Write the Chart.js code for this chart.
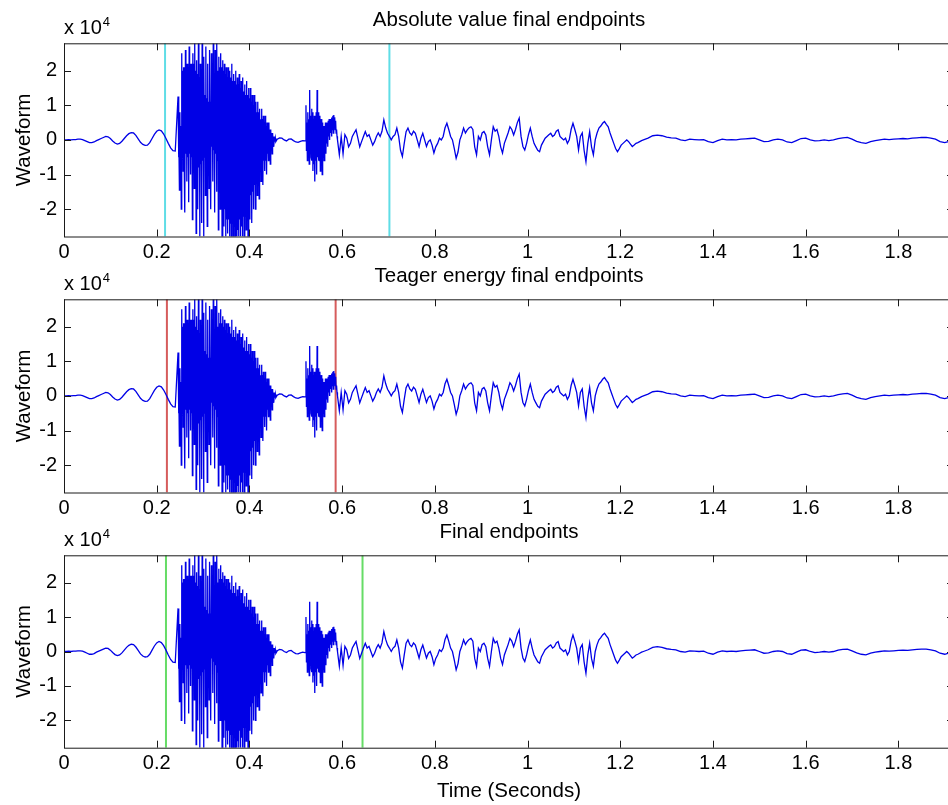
<!DOCTYPE html>
<html>
<head>
<meta charset="utf-8">
<script src="https://cdn.jsdelivr.net/npm/chart.js@4.4.1/dist/chart.umd.min.js"></script>
<style>
  body { margin: 0; background: #fff; }
  #figure { position: relative; width: 948px; height: 805px; overflow: hidden; background: #fff; }
  #figure canvas { position: absolute; left: 0; }
</style>
</head>
<body>
<div id="figure">
  <canvas id="absPanel" width="954" height="270" style="top:0"></canvas>
  <canvas id="teagerPanel" width="954" height="270" style="top:256px"></canvas>
  <canvas id="finalPanel" width="954" height="293" style="top:512px"></canvas>
</div>
<script>
// amplitudes are in units of 1e4, time in seconds
// each block is sampled from its start time at a fixed step
const onsetWiggle = [0, 0, 0.01, 0, 0.01, 0.01, 0.02, 0.02, 0.01, -0.02, -0.05, -0.08, -0.08, -0.06, -0.02,
  0.01, 0.04, 0.07, 0.1, 0.09, 0.04, -0.03, -0.09, -0.12, -0.1, -0.04, 0.04, 0.12, 0.18, 0.21,
  0.2, 0.13, 0.03, -0.07, -0.13, -0.16, -0.15, -0.08, 0.04, 0.16, 0.25, 0.29, 0.26, 0.17, 0.04,
  -0.1, -0.23, -0.31, -0.32];

const voicedBurst = [
  1.25, -0.5, 0.3, -1.45,   0.8, -0.6, 0.4, -2.0,   2.5, -0.3, 2.0, -0.9,   2.1, -0.4, 2.1, -2.1,
  2.6, -0.4, 2.2, -1.2,     2.2, -0.5, 2.1, -1.8,   2.7, -0.4, 2.2, -1.0,   2.2, -0.5, 2.1, -2.3,
  2.5, -0.6, 2.2, -1.4,     2.79, -0.6, 2.0, -2.7,  2.3, -0.8, 1.9, -2.0,   2.79, -0.8, 1.8, -2.79,
  2.2, -0.7, 1.6, -2.4,     2.79, -0.6, 1.5, -2.79, 2.4, -0.5, 1.3, -1.6,   2.7, -0.4, 1.2, -2.5,
  2.2, -0.3, 1.1, -1.4,     2.6, -0.2, 1.1, -2.0,   2.5, -0.2, 1.2, -1.2,   2.79, -0.3, 1.3, -2.1,
  2.6, -0.4, 1.6, -1.5,     2.79, -0.6, 2.0, -2.6,  2.4, -0.9, 2.1, -2.0,   2.5, -1.2, 2.1, -2.79,
  2.3, -1.6, 2.0, -2.5,     2.2, -2.0, 1.9, -2.79,  2.1, -2.3, 1.8, -2.7,   2.1, -2.3, 1.8, -2.79,
  2.0, -2.4, 1.8, -2.79,    2.2, -2.4, 1.7, -2.79,  1.9, -2.5, 1.7, -2.79,  2.0, -2.4, 1.6, -2.79,
  1.8, -2.6, 1.6, -2.79,    1.9, -2.3, 1.5, -2.79,  1.7, -2.5, 1.5, -2.79,  1.8, -2.2, 1.4, -2.79,
  1.6, -2.2, 1.3, -2.6,     1.7, -2.0, 1.3, -2.79,  1.5, -1.8, 1.2, -2.3,   1.5, -1.6, 1.1, -2.4,
  1.3, -1.5, 1.0, -2.0,     1.3, -1.3, 0.9, -2.0,   1.1, -1.2, 0.8, -1.6,   1.1, -1.0, 0.8, -1.7,
  0.9, -0.9, 0.6, -1.2,     0.9, -0.8, 0.6, -1.3,   0.7, -0.6, 0.5, -0.9,   0.7, -0.6, 0.4, -1.0,
  0.5, -0.4, 0.3, -0.6,     0.5, -0.4, 0.3, -0.7,   0.3, -0.2, 0.2, -0.4,   0.2, -0.1, 0.1, -0.2,
  0.1, -0.05, 0.05, -0.05];

const pauseWiggle = [0.02, 0.06, 0.05, 0, -0.03, 0.02, 0.03, -0.02, -0.06, -0.07, -0.04, -0.02, -0.03];

const fricativeBurst = [
  1.0, -0.3, 0.5, -0.6,   0.8, -0.5, 0.6, -0.7,   1.44, -0.4, 0.7, -0.5,  0.9, -0.6, 0.8, -0.9,
  0.6, -0.7, 0.7, -1.2,   0.7, -0.6, 0.8, -1.0,   1.44, -0.5, 0.7, -0.6,  0.8, -0.6, 0.7, -0.9,
  0.6, -0.7, 0.6, -1.0,   0.5, -0.5, 0.4, -0.6,   0.4, -0.3, 0.5, -0.4,   0.5, -0.1, 0.5, -0.2,
  0.55, 0.1, 0.6, 0,      0.6, 0.2, 0.6, 0.1,     0.65, 0.3, 0.7, 0.2,    0.72, 0.35, 0.65, 0.3,
  0.55, 0.2, 0.3, 0.1,    0];

const vowelBody = [-0.43, 0.1, -0.4, 0.15, 0.05, -0.2, -0.1, 0.1, 0.2, 0.29,
  0.05, -0.2, -0.05, 0.1, 0.24, 0.1, 0.15, 0, -0.15, -0.05,
  0.1, 0.2, 0.1, 0.25, 0.58, 0.35, 0.19, 0.1, 0, 0.1,
  0.15, 0.34, 0.1, -0.3, -0.48, -0.1, 0.24, 0.34, 0.2, 0.14,
  0.25, 0.19, 0, -0.19, 0.05, 0.19, 0, -0.19, -0.05, 0,
  -0.15, -0.38, -0.2, -0.1, 0.05, 0, 0.1, 0.35, 0.48, 0.3,
  0.1, 0, -0.25, -0.53, -0.35, 0, 0.15, 0.34, 0.2, 0.29,
  0.35, 0.38, 0.3, -0.2, -0.43, 0.1, 0, 0.2, 0.24, 0.14,
  -0.2, -0.43, 0, 0.38, 0.25, 0.3, 0.1, -0.2, -0.38, -0.1,
  0.05, 0.2, 0.38, 0.3, 0.14, 0.3, 0.5, 0.63, 0.1, -0.19,
  -0.29, -0.1, 0.15, 0.34, 0.1, -0.1, -0.2, -0.3, -0.34, -0.15,
  -0.05, 0.05, 0.1, 0.15, 0.19, 0.1, 0.14, 0.25, 0.29, 0.1,
  0.05, 0, 0.05, -0.1, 0, 0.3, 0.48, 0.3, 0.1, -0.29,
  0.1, 0.2, -0.3, -0.63, -0.1, 0.24, -0.2, -0.43, 0, 0.2,
  0.34, 0.4, 0.48, 0.53, 0.45, 0.38, 0.2, 0.05, -0.1, -0.25,
  -0.34, -0.25, -0.15, -0.1, -0.05, 0, -0.05, -0.12, -0.19, -0.15,
  -0.1, -0.08, -0.05, -0.02];

const trailingSilence = [0, 0.05, 0.12, 0.14, 0.12, 0.08, 0.06, 0.05, 0, -0.02,
  0.02, 0.01, 0, 0.01, -0.05, -0.08, -0.02, 0.02, 0, 0.01,
  0, 0.02, 0.03, 0.04, 0.05, 0, -0.05, -0.04, 0, 0.02,
  0, -0.06, -0.08, -0.02, 0.04, 0.05, 0, -0.03, -0.02, 0,
  -0.02, 0, 0.04, 0.06, 0.07, 0.02, -0.04, -0.08, -0.1, -0.05,
  -0.02, 0, 0.02, 0.01, 0.02, 0.03, 0.04, 0.03, 0.05, 0.06,
  0.07, 0.07, 0.05, 0.02, -0.05, -0.08, -0.04, -0.02];

// [start time, step, samples]
const blocks = [
  [0, 0.005, onsetWiggle],
  [0.246, 0.001, voicedBurst],
  [0.46, 0.005, pauseWiggle],
  [0.522, 0.001, fricativeBurst],
  [0.594, 0.004, vowelBody],
  [1.25, 0.01, trailingSilence],
];

// detected start/end of speech, seconds
const absEndpoints = [0.218, 0.702];
const teagerEndpoints = [0.222, 0.586];
const finalEndpoints = [0.220, 0.644];

const timeRange = [0, 1.92];
const ampRange = [-2.79, 2.79];
const timeTicks = [0, 0.2, 0.4, 0.6, 0.8, 1, 1.2, 1.4, 1.6, 1.8];
const ampTicks = [-2, -1, 0, 1, 2];

const FONT = "'Liberation Sans', Arial, Helvetica, sans-serif";

const waveform = [];
blocks.forEach(([t0, dt, vals]) => {
  vals.forEach((v, i) => waveform.push({ x: +(t0 + i * dt).toFixed(4), y: v }));
});

// box around the plot with inward ticks on all sides, plus the exponent note
const matlabAxes = {
  id: 'matlabAxes',
  afterDatasetsDraw(chart) {
    const { ctx, chartArea: a, scales: { x, y } } = chart;
    ctx.save();
    ctx.strokeStyle = '#1a1a1a';
    ctx.lineWidth = 1;
    ctx.strokeRect(a.left + 0.5, a.top + 0.5, a.right - a.left - 1, a.bottom - a.top);
    ctx.beginPath();
    x.ticks.forEach(t => {
      const px = Math.round(x.getPixelForValue(t.value)) + 0.5;
      ctx.moveTo(px, a.top); ctx.lineTo(px, a.top + 7);
      ctx.moveTo(px, a.bottom); ctx.lineTo(px, a.bottom - 7);
    });
    y.ticks.forEach(t => {
      const py = Math.round(y.getPixelForValue(t.value)) + 0.5;
      ctx.moveTo(a.left, py); ctx.lineTo(a.left + 7, py);
      ctx.moveTo(a.right, py); ctx.lineTo(a.right - 7, py);
    });
    ctx.stroke();

    ctx.fillStyle = '#000';
    ctx.textBaseline = 'middle';
    ctx.textAlign = 'left';
    ctx.font = '20px ' + FONT;
    ctx.fillText('x 10', a.left, a.top - 15);
    const w = ctx.measureText('x 10').width;
    ctx.font = '13px ' + FONT;
    ctx.fillText('4', a.left + w + 1, a.top - 21);
    ctx.restore();
  }
};

function makePanel(id, title, endpoints, markColor, showTimeLabel) {
  const markers = endpoints.map(t => ({
    data: [{ x: t, y: ampRange[0] }, { x: t, y: ampRange[1] }],
    borderColor: markColor,
    borderWidth: 2,
    pointRadius: 0,
  }));

  return new Chart(document.getElementById(id), {
    type: 'line',
    data: {
      datasets: [
        { data: waveform, borderColor: '#0000e6', borderWidth: 1.3, pointRadius: 0, tension: 0 },
        ...markers,
      ]
    },
    options: {
      responsive: false,
      animation: false,
      devicePixelRatio: 1,
      parsing: false,
      layout: { padding: 0 },
      plugins: {
        legend: { display: false },
        tooltip: { enabled: false },
        title: {
          display: true,
          text: title,
          fullSize: false,
          color: '#000',
          font: { family: FONT, size: 20.5, weight: 'normal' },
          padding: { top: 8, bottom: 10.7 },
        },
      },
      scales: {
        x: {
          type: 'linear',
          min: timeRange[0],
          max: timeRange[1],
          grid: { display: false, drawTicks: false },
          border: { display: false },
          afterBuildTicks: s => { s.ticks = timeTicks.map(value => ({ value })); },
          ticks: {
            autoSkip: false,
            maxRotation: 0,
            padding: 4,
            color: '#000',
            font: { family: FONT, size: 20 },
            callback: v => String(+v.toFixed(1)),
          },
          title: {
            display: showTimeLabel,
            text: 'Time (Seconds)',
            color: '#000',
            font: { family: FONT, size: 20.5 },
            padding: { top: 0, bottom: 1 },
          },
          afterFit: s => { s.height = showTimeLabel ? 57.3 : 33.5; },
        },
        y: {
          type: 'linear',
          min: ampRange[0],
          max: ampRange[1],
          grid: { display: false, drawTicks: false },
          border: { display: false },
          afterBuildTicks: s => { s.ticks = ampTicks.map(value => ({ value })); },
          ticks: {
            padding: 7,
            color: '#000',
            font: { family: FONT, size: 20 },
            callback: v => String(v),
          },
          title: {
            display: true,
            text: 'Waveform',
            color: '#000',
            font: { family: FONT, size: 20.5 },
            padding: { top: 12.5 },
          },
          afterFit: s => { s.width = 64; },
        },
      },
    },
    plugins: [matlabAxes],
  });
}

makePanel('absPanel', 'Absolute value final endpoints', absEndpoints, '#5fdde6', false);
makePanel('teagerPanel', 'Teager energy final endpoints', teagerEndpoints, '#d65c5c', false);
makePanel('finalPanel', 'Final endpoints', finalEndpoints, '#66dc66', true);
</script>
</body>
</html>
